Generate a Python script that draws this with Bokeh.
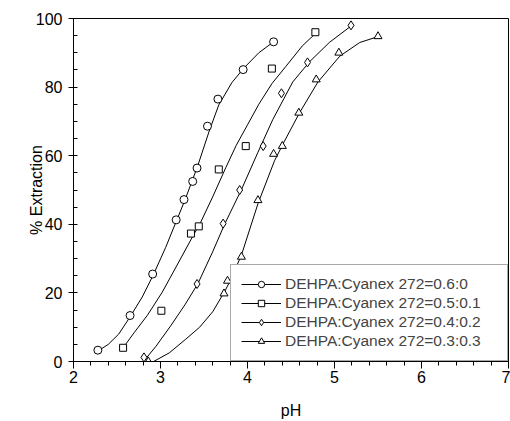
from bokeh.plotting import figure
from bokeh.models import Range1d, SingleIntervalTicker, Legend, LegendItem
from bokeh.embed import file_html
from bokeh.resources import INLINE

labels = ["DEHPA:Cyanex 272=0.6:0", "DEHPA:Cyanex 272=0.5:0.1",
          "DEHPA:Cyanex 272=0.4:0.2", "DEHPA:Cyanex 272=0.3:0.3"]
markers = ["circle", "square", "diamond", "triangle"]
x_title = "pH"
y_title = "% Extraction"

# measured points (pH, % extraction)
ph1 = [2.28, 2.65, 2.91, 3.18, 3.27, 3.37, 3.42, 3.54, 3.66, 3.95, 4.30]
ext1 = [3.3, 13.4, 25.5, 41.3, 47.2, 52.5, 56.4, 68.6, 76.5, 85.1, 93.2]
ph2 = [2.57, 3.01, 3.35, 3.44, 3.67, 3.98, 4.28, 4.78]
ext2 = [4.0, 14.8, 37.3, 39.4, 56.0, 62.8, 85.4, 96.0]
ph3 = [2.81, 3.42, 3.72, 3.91, 4.18, 4.39, 4.69, 5.19]
ext3 = [1.2, 22.6, 40.2, 50.0, 62.8, 78.2, 87.2, 98.0]
ph4 = [2.86, 3.73, 3.77, 3.93, 4.12, 4.30, 4.40, 4.59, 4.79, 5.05, 5.50]
ext4 = [0.0, 19.8, 23.5, 30.5, 47.0, 60.5, 62.8, 72.5, 82.2, 90.0, 94.8]

# fitted curves
fit_ph1 = [2.29, 2.40, 2.52, 2.65, 2.79, 2.92, 3.06, 3.18, 3.28, 3.43, 3.56,
           3.67, 3.82, 3.96, 4.13, 4.31]
fit_ext1 = [3.2, 5.0, 8.0, 13.0, 18.8, 25.4, 33.3, 40.8, 47.0, 57.2, 67.2,
            74.8, 81.3, 85.6, 90.0, 93.4]
fit_ph2 = [2.57, 2.70, 2.85, 3.02, 3.21, 3.36, 3.46, 3.60, 3.75, 3.87, 4.00,
           4.13, 4.28, 4.44, 4.63, 4.80]
fit_ext2 = [4.0, 8.5, 13.5, 20.2, 29.0, 36.0, 40.5, 48.0, 56.5, 63.0, 69.0,
            75.0, 81.0, 86.0, 92.0, 96.1]
fit_ph3 = [2.82, 2.95, 3.12, 3.28, 3.43, 3.60, 3.74, 3.93, 4.12, 4.29, 4.52,
           4.71, 4.94, 5.20]
fit_ext3 = [0.5, 4.5, 10.5, 16.5, 22.7, 32.0, 40.2, 50.1, 61.0, 70.5, 81.5,
            87.3, 93.0, 98.0]
fit_ph4 = [2.92, 3.10, 3.29, 3.45, 3.60, 3.74, 3.79, 3.93, 4.12, 4.31, 4.42,
           4.60, 4.81, 5.06, 5.29, 5.51]
fit_ext4 = [0.0, 2.5, 6.5, 10.0, 14.5, 20.5, 23.0, 31.0, 46.0, 58.5, 64.0,
            72.6, 81.5, 89.0, 93.0, 94.8]

points = [(ph1, ext1), (ph2, ext2), (ph3, ext3), (ph4, ext4)]
curves = [(fit_ph1, fit_ext1), (fit_ph2, fit_ext2), (fit_ph3, fit_ext3),
          (fit_ph4, fit_ext4)]
sizes = [8, 7, 9, 8]

FONT = "Liberation Sans"

p = figure(width=510, height=421, output_backend="svg", toolbar_location=None,
           x_range=Range1d(2, 7), y_range=Range1d(0, 100),
           min_border_left=73, min_border_right=2, min_border_top=18,
           min_border_bottom=60)
p.grid.visible = False
p.outline_line_color = "black"
p.outline_line_width = 1
p.background_fill_color = "white"
p.border_fill_color = "white"

p.xaxis.ticker = SingleIntervalTicker(interval=1, num_minor_ticks=5)
p.yaxis.ticker = SingleIntervalTicker(interval=20, num_minor_ticks=4)
p.xaxis.axis_label = x_title
p.yaxis.axis_label = y_title
for ax in (p.xaxis, p.yaxis):
    ax.axis_line_color = "black"
    ax.major_tick_line_color = "black"
    ax.minor_tick_line_color = "black"
    ax.major_label_text_font = FONT
    ax.major_label_text_font_size = "16px"
    ax.major_label_text_color = "black"
    ax.axis_label_text_font = FONT
    ax.axis_label_text_font_size = "16px"
    ax.axis_label_text_font_style = "normal"
    ax.axis_label_text_color = "black"
p.xaxis.major_tick_out = 7
p.xaxis.major_tick_in = 0
p.xaxis.minor_tick_out = 4
p.xaxis.minor_tick_in = 0
p.xaxis.major_label_standoff = 2
p.xaxis.axis_label_standoff = 16
p.yaxis.major_tick_out = 5
p.yaxis.major_tick_in = 3
p.yaxis.minor_tick_out = 0
p.yaxis.minor_tick_in = 4
p.yaxis.major_label_standoff = 6
p.yaxis.axis_label_standoff = -12

items = []
for (xs, ys), (cx, cy), mk, lab, sz in zip(points, curves, markers, labels, sizes):
    lr = p.line(cx, cy, line_color="black", line_width=1)
    sr = p.scatter(xs, ys, marker=mk, size=sz, line_color="black",
                   fill_color="white", line_width=1)
    items.append(LegendItem(label=lab, renderers=[lr, sr]))

legend = Legend(items=items, location="bottom_right", margin=0,
                border_line_color="#555555", border_line_width=1,
                background_fill_color="white", background_fill_alpha=1,
                label_text_font=FONT, label_text_font_size="15.5px",
                glyph_width=40, glyph_height=16, label_height=16,
                label_width=212, spacing=1, padding=10, label_standoff=4)
p.add_layout(legend)

open("out.html", "w").write(file_html(p, INLINE))
